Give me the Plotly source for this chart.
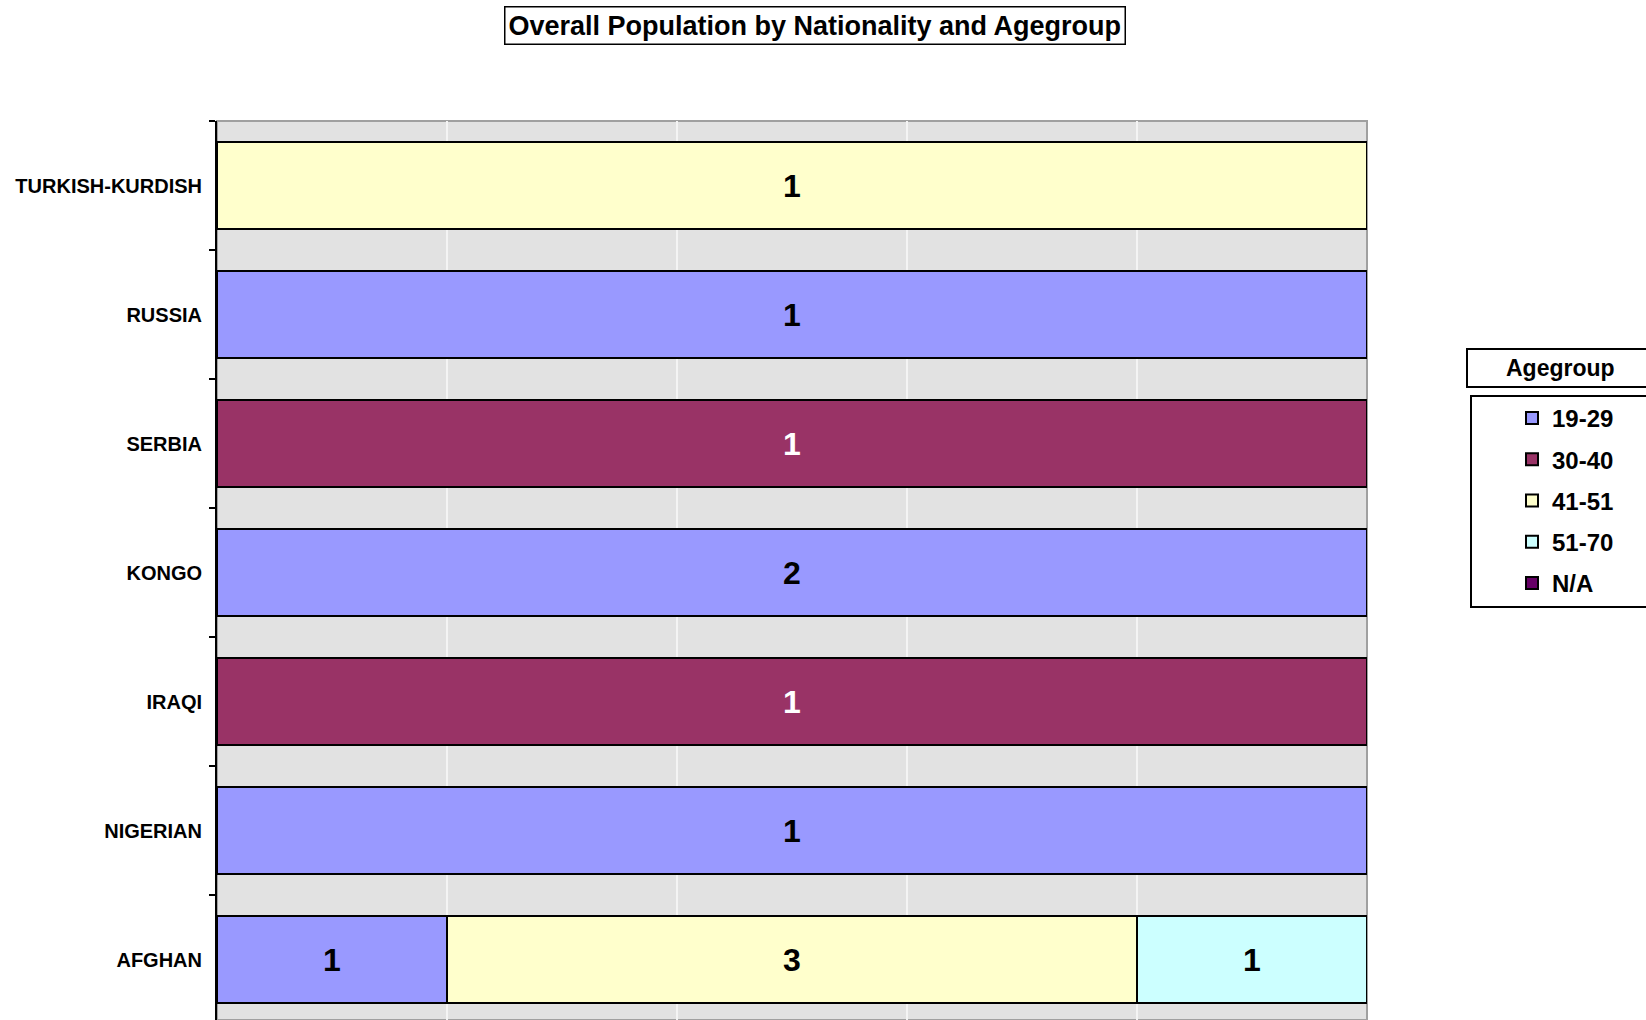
import plotly.graph_objects as go

# Nationalities, bottom to top
nationalities = ["AFGHAN", "NIGERIAN", "IRAQI", "KONGO", "SERBIA", "RUSSIA", "TURKISH-KURDISH"]

# Head counts per age group (None = no one in that group)
age_19_29 = [1, 1, None, 2, None, 1, None]
age_30_40 = [None, None, 1, None, 1, None, None]
age_41_51 = [3, None, None, None, None, None, 1]
age_51_70 = [1, None, None, None, None, None, None]
age_na = [None, None, None, None, None, None, None]

groups = ["19-29", "30-40", "41-51", "51-70", "N/A"]
series = [age_19_29, age_30_40, age_41_51, age_51_70, age_na]
colors = ["#9999FF", "#993366", "#FFFFCC", "#CCFFFF", "#660066"]
text_colors = ["black", "white", "black", "black", "white"]

W, H = 1646, 1020
L, R, T = 217, 1367, 121          # plot area edges in px
BAND = 129                         # px per category band


def px_x(px):
    return (px - L) / (R - L)


def px_y(py):
    return (H - py) / (H - T)


fig = go.Figure()
for i, (name, vals) in enumerate(zip(groups, series)):
    fig.add_trace(go.Bar(
        y=nationalities,
        x=vals,
        orientation="h",
        name=name,
        legendgroup=name,
        marker=dict(color=colors[i], line=dict(color="black", width=2)),
        width=0.667,
        text=[("" if v is None else str(v)) for v in vals],
        texttemplate="%{text}",
        textposition="inside",
        insidetextanchor="middle",
        textangle=0,
        insidetextfont=dict(family="Liberation Sans, Arial", size=32, color=text_colors[i], weight="bold"),
        hoverinfo="skip",
    ))

y_bottom = 6.5 - (H - T) / BAND

fig.update_layout(
    width=W,
    height=H,
    margin=dict(l=L, r=W - R, t=T, b=0, pad=0),
    paper_bgcolor="white",
    plot_bgcolor="#e2e2e2",
    barmode="stack",
    barnorm="percent",
    font=dict(family="Liberation Sans, Arial", color="black"),
    showlegend=True,
    legend=dict(
        xref="container", yref="container",
        x=1512 / W, xanchor="left",
        y=1 - 396 / H, yanchor="top",
        bgcolor="rgba(0,0,0,0)",
        borderwidth=0,
        font=dict(size=24, weight="bold"),
        tracegroupgap=7,
        traceorder="grouped",
        itemclick=False,
    ),
    xaxis=dict(
        range=[0, 100],
        showticklabels=False,
        showgrid=True,
        gridcolor="#f4f4f4",
        gridwidth=2,
        dtick=20,
        zeroline=False,
        showline=False,
        fixedrange=True,
    ),
    yaxis=dict(
        type="category",
        categoryorder="array",
        categoryarray=nationalities,
        range=[y_bottom, 6.5],
        showline=True,
        linecolor="black",
        linewidth=2,
        ticks="outside",
        tickson="boundaries",
        ticklen=6,
        tickwidth=2,
        tickcolor="black",
        ticklabelstandoff=9,
        tickfont=dict(size=20, weight="bold"),
        showgrid=False,
        zeroline=False,
        fixedrange=True,
    ),
    shapes=[
        # plot area frame (grey, top and right visible)
        dict(type="rect", xref="paper", yref="paper", x0=0, x1=1, y0=0, y1=1,
             line=dict(color="#a0a0a0", width=2), layer="between"),
        # legend title box
        dict(type="rect", xref="paper", yref="paper",
             x0=px_x(1467), x1=px_x(1700), y0=px_y(387), y1=px_y(349),
             line=dict(color="black", width=2), fillcolor="white", layer="below"),
        # legend entries box
        dict(type="rect", xref="paper", yref="paper",
             x0=px_x(1471), x1=px_x(1700), y0=px_y(607), y1=px_y(396),
             line=dict(color="black", width=2), fillcolor="white", layer="below"),
    ],
    annotations=[
        dict(text="<b>Overall Population by Nationality and Agegroup</b>",
             xref="paper", yref="paper", x=px_x(815), y=px_y(25.5),
             xanchor="center", yanchor="middle", showarrow=False,
             font=dict(size=27, color="black"),
             bordercolor="black", borderwidth=1.5, borderpad=3, bgcolor="white"),
        dict(text="<b>Agegroup</b>",
             xref="paper", yref="paper", x=px_x(1560), y=px_y(368),
             xanchor="center", yanchor="middle", showarrow=False,
             font=dict(size=23, color="black")),
    ],
)

fig.write_html("out.html")
